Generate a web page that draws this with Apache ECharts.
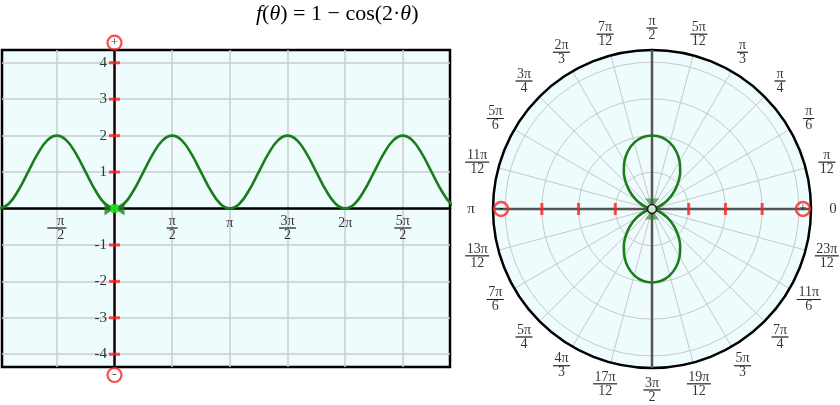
<!DOCTYPE html>
<html><head><meta charset="utf-8">
<script src="https://cdn.jsdelivr.net/npm/echarts@6/dist/echarts.min.js"></script>
<style>html,body{margin:0;padding:0;background:#fff}#c{width:840px;height:405px}</style>
</head><body><div id="c"></div>
<script>
// ---------- data ----------
const leftThetaDeg = [-180,-165,-150,-135,-120,-105,-90,-75,-60,-45,-30,-15,0,15,30,45,60,75,90,105,120,135,150,165,180,195,210,225,240,255,270,285,300,315,330,345,360,375,390,405,420,435,450,465,480,495,510,525,540];
const leftR = [0,0.13,0.5,1,1.5,1.87,2,1.87,1.5,1,0.5,0.13, 0,0.13,0.5,1,1.5,1.87,2,1.87,1.5,1,0.5,0.13, 0,0.13,0.5,1,1.5,1.87,2,1.87,1.5,1,0.5,0.13, 0,0.13,0.5,1,1.5,1.87,2,1.87,1.5,1,0.5,0.13, 0];
const polarThetaDeg = [0,7.5,15,22.5,30,37.5,45,52.5,60,67.5,75,82.5,90,97.5,105,112.5,120,127.5,135,142.5,150,157.5,165,172.5,180,187.5,195,202.5,210,217.5,225,232.5,240,247.5,255,262.5,270,277.5,285,292.5,300,307.5,315,322.5,330,337.5,345,352.5,360];
const polarR = [0,0.03,0.13,0.29,0.5,0.74,1,1.26,1.5,1.71,1.87,1.97,2,1.97,1.87,1.71,1.5,1.26,1,0.74,0.5,0.29,0.13,0.03,0,0.03,0.13,0.29,0.5,0.74,1,1.26,1.5,1.71,1.87,1.97,2,1.97,1.87,1.71,1.5,1.26,1,0.74,0.5,0.29,0.13,0.03,0];

const xMinDeg = -175.6, xMaxDeg = 523.6;
const yMin = -4.35, yMax = 4.35;
const xGridDeg = [-90,0,90,180,270,360,450];
const xLabelDeg = [-90,90,180,270,360,450];
const xLabelText = ['-π/2','π/2','π','3π/2','2π','5π/2'];
const yGridVals = [-4,-3,-2,-1,0,1,2,3,4];
const yLabelVals = [-4,-3,-2,-1,1,2,3,4];
const yLabelText = ['-4','-3','-2','-1','1','2','3','4'];
const yEndMarks = [[4.55,'+'],[-4.57,'-']];

const rMax = 4.33;
const polarTickR = [1,2,3];
const polarEndMarks = [[4.11,0,'+'],[4.11,180,'-']];
const angleLabelDeg = [0,15,30,45,60,75,90,105,120,135,150,165,180,195,210,225,240,255,270,285,300,315,330,345];
const angleLabelText = ['0','π/12','π/6','π/4','π/3','5π/12','π/2','7π/12','2π/3','3π/4','5π/6','11π/12','π','13π/12','7π/6','5π/4','4π/3','17π/12','3π/2','19π/12','5π/3','7π/4','11π/6','23π/12'];

// ---------- styles ----------
const SERIF = '"Liberation Serif","Times New Roman",serif';
const GREEN = '#1b7d1b';
const RED = '#ff1f1f';
const BG = '#eefcfd';
const fs = 14;
const rich = {
  n: {fontFamily:SERIF,fontSize:fs,lineHeight:14,align:'center',color:'#000'},
  d: {fontFamily:SERIF,fontSize:fs,lineHeight:14,align:'center',color:'#000'},
  nn:{fontFamily:SERIF,fontSize:fs,lineHeight:14,align:'center',color:'#000',padding:[0,0,0,8]},
  dn:{fontFamily:SERIF,fontSize:fs,lineHeight:14,align:'center',color:'#000',padding:[0,0,0,8]},
  h1:{borderColor:'#000',borderWidth:0.8,width:11,height:0,align:'center'},
  h2:{borderColor:'#000',borderWidth:0.8,width:17,height:0,align:'center'},
  h3:{borderColor:'#000',borderWidth:0.8,width:24,height:0,align:'center'},
  hn:{borderColor:'#000',borderWidth:0.8,width:19,height:0,align:'center'},
  px:{fontFamily:SERIF,fontSize:fs,lineHeight:14,color:'#000',padding:[4,0,0,0]},
  pp:{fontFamily:SERIF,fontSize:fs+1,lineHeight:15,color:'#000'}
};
function frac(s, plain){
  const neg = s.charAt(0)==='-';
  const t = neg ? s.slice(1) : s;
  if (t.indexOf('/')<0) return '{'+plain+'|'+s+'}';
  const parts = t.split('/');
  const len = Math.max(parts[0].length, parts[1].length);
  const hr = neg ? 'hn' : ('h'+Math.min(len,3));
  return neg ? '{nn|'+parts[0]+'}\n{'+hr+'|}\n{dn|'+parts[1]+'}'
             : '{n|'+parts[0]+'}\n{'+hr+'|}\n{d|'+parts[1]+'}';
}

const chart = echarts.init(document.getElementById('c'));
const option = {
  animation:false,
  title:{
    text:'{i|f}({i|θ}) = 1 − cos(2·{i|θ})',
    left:251, top:-2,
    textStyle:{fontFamily:SERIF,fontSize:22,fontWeight:'normal',color:'#000',
      rich:{i:{fontFamily:SERIF,fontSize:22,fontStyle:'italic',color:'#000'}}}
  },
  grid:{left:2,top:50,width:448,height:317,show:true,backgroundColor:BG,borderColor:'#000',borderWidth:2.5,
    containLabel:false,outerBoundsMode:'none'},
  xAxis:{
    type:'value',min:xMinDeg,max:xMaxDeg,
    axisLine:{onZero:true,lineStyle:{color:'#000',width:2.5}},
    axisTick:{show:false,customValues:xGridDeg},
    axisLabel:{show:false},
    splitLine:{show:true,lineStyle:{color:'#cccccc',width:1.5}}
  },
  yAxis:{
    type:'value',min:yMin,max:yMax,
    axisLine:{onZero:true,lineStyle:{color:'#1a0000',width:2.5}},
    axisTick:{show:false,customValues:yGridVals},
    axisLabel:{show:false},
    splitLine:{show:true,lineStyle:{color:'#cccccc',width:1.5}}
  },
  polar:[{center:[652,209],radius:159},{center:[652,209],radius:181}],
  radiusAxis:[
    {polarIndex:0,type:'value',min:0,max:rMax,interval:1,
      axisLine:{show:false},axisTick:{show:false},axisLabel:{show:false},
      splitLine:{show:true,lineStyle:{color:'#c8c8c8',width:1}}},
    {polarIndex:1,type:'value',min:0,max:1,show:false}
  ],
  angleAxis:[
    {polarIndex:0,type:'value',min:0,max:360,interval:15,startAngle:0,clockwise:false,
      axisLine:{show:true,lineStyle:{color:'#000',width:2.5}},
      axisTick:{show:false},axisLabel:{show:false},
      splitLine:{show:true,lineStyle:{color:'#c8c8c8',width:1}}},
    {polarIndex:1,type:'value',min:0,max:360,startAngle:0,clockwise:false,show:false}
  ],
  series:[
    // ----- cartesian -----
    {type:'line',xAxisIndex:0,yAxisIndex:0,data:leftThetaDeg.map((t,i)=>[t,leftR[i]]),
      smooth:0.4,showSymbol:false,symbol:'none',lineStyle:{color:GREEN,width:2.6},clip:true,z:3},
    {type:'scatter',xAxisIndex:0,yAxisIndex:0,data:yLabelVals.map(v=>[0,v]),
      symbol:'rect',symbolSize:[11,3],itemStyle:{color:RED},z:4,silent:true},
    {type:'scatter',xAxisIndex:0,yAxisIndex:0,clip:false,silent:true,
      data:yLabelVals.map((v,i)=>({value:[0,v],name:yLabelText[i]})),
      symbol:'circle',symbolSize:1,itemStyle:{color:'rgba(0,0,0,0)'},
      label:{show:true,position:'left',distance:7,formatter:p=>p.name,color:'#000',fontFamily:SERIF,fontSize:15},z:4},
    {type:'scatter',xAxisIndex:0,yAxisIndex:0,clip:false,silent:true,
      data:xLabelDeg.map((v,i)=>({value:[v,0],name:xLabelText[i]})),
      symbol:'circle',symbolSize:1,itemStyle:{color:'rgba(0,0,0,0)'},
      label:{show:true,position:'bottom',distance:5,formatter:p=>frac(p.name,'px'),rich:rich,color:'#000'},z:4},
    {type:'scatter',xAxisIndex:0,yAxisIndex:0,clip:false,
      data:yEndMarks.map(m=>({value:[0,m[0]],name:m[1]})),
      symbol:'circle',symbolSize:14,
      itemStyle:{color:'rgba(255,255,255,0)',borderColor:RED,borderWidth:2.2},
      label:{show:true,position:'inside',formatter:p=>p.name,color:'#000',fontSize:13,fontFamily:SERIF},z:5},
    {type:'scatter',xAxisIndex:0,yAxisIndex:0,clip:false,
      data:[{value:[0,0],symbolRotate:-90,symbolOffset:[-5,0]},{value:[0,0],symbolRotate:90,symbolOffset:[5,0]}],
      symbol:'triangle',symbolSize:[14,10],itemStyle:{color:GREEN},z:5},
    {type:'scatter',xAxisIndex:0,yAxisIndex:0,clip:false,data:[[0,0]],
      symbol:'circle',symbolSize:9,itemStyle:{color:'#22ee22',borderColor:'#1a9a1a',borderWidth:1},z:6},
    // ----- polar -----
    {type:'pie',center:[652,209],radius:[0,159],silent:true,z:-10,
      data:[{value:1,name:'bg'}],label:{show:false},labelLine:{show:false},
      itemStyle:{color:BG,borderWidth:0},emphasis:{disabled:true}},
    {type:'line',coordinateSystem:'polar',polarIndex:0,data:[[rMax,0],[0,0],[rMax,180]],
      symbol:'none',lineStyle:{color:'#555',width:2.5},z:2},
    {type:'line',coordinateSystem:'polar',polarIndex:0,data:[[rMax,90],[0,0],[rMax,270]],
      symbol:'none',lineStyle:{color:'#555',width:2.5},z:2},
    {type:'scatter',coordinateSystem:'polar',polarIndex:0,
      data:polarTickR.map(r=>[r,0]).concat(polarTickR.map(r=>[r,180])),
      symbol:'rect',symbolSize:[3,12],itemStyle:{color:RED},z:3},
    {type:'line',coordinateSystem:'polar',polarIndex:0,data:polarThetaDeg.map((t,i)=>[polarR[i],t]),
      smooth:0.3,symbol:'none',lineStyle:{color:GREEN,width:2.6},z:4},
    {type:'scatter',coordinateSystem:'polar',polarIndex:0,
      data:[{value:[0,0],symbolRotate:180,symbolOffset:[0,-6]},{value:[0,0],symbolRotate:0,symbolOffset:[0,6]}],
      symbol:'triangle',symbolSize:[14,9],itemStyle:{color:'rgba(27,125,27,0.75)'},z:5},
    {type:'scatter',coordinateSystem:'polar',polarIndex:0,data:[[0,0]],
      symbol:'circle',symbolSize:9,itemStyle:{color:'#fff',borderColor:'#000',borderWidth:1.6},z:6},
    {type:'scatter',coordinateSystem:'polar',polarIndex:0,
      data:polarEndMarks.map(m=>({value:[m[0],m[1]],name:m[2]})),
      symbol:'circle',symbolSize:14,
      itemStyle:{color:'rgba(255,255,255,0)',borderColor:RED,borderWidth:2.4},
      label:{show:true,position:'inside',formatter:p=>p.name,color:'#000',fontSize:13,fontFamily:SERIF},z:6},
    {type:'scatter',coordinateSystem:'polar',polarIndex:1,
      data:angleLabelDeg.map((a,i)=>({value:[1,a],name:angleLabelText[i]})),
      symbol:'circle',symbolSize:1,itemStyle:{color:'rgba(0,0,0,0)'},
      label:{show:true,position:'inside',color:'#000',rich:rich,formatter:p=>frac(p.name,'pp')},z:6,silent:true}
  ]
};
chart.setOption(option);
</script></body></html>
